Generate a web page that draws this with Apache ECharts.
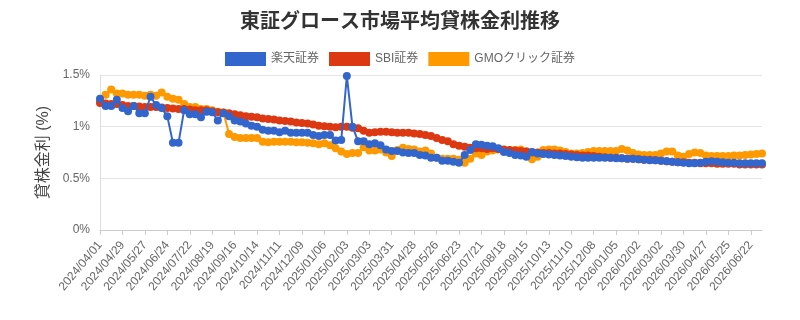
<!DOCTYPE html>
<html>
<head>
<meta charset="utf-8">
<script src="https://cdn.jsdelivr.net/npm/echarts@6/dist/echarts.min.js"></script>
<style>
  html, body { margin: 0; padding: 0; background: #fff; }
  #chart { width: 800px; height: 320px; }
</style>
</head>
<body>
<div id="chart"></div>
<script>
// weekly dates, 2024/04/01 .. 2026/07/06
const weekCount = 119;
const dates = [];
for (let i = 0; i < weekCount; i++) {
  const d = new Date(2024, 3, 1 + i * 7);
  const mm = String(d.getMonth() + 1).padStart(2, "0");
  const dd = String(d.getDate()).padStart(2, "0");
  dates.push(d.getFullYear() + "/" + mm + "/" + dd);
}

const seriesNames = ["楽天証券", "SBI証券", "GMOクリック証券"];

// 楽天証券
const rakuten = [
  1.27, 1.20, 1.20, 1.26, 1.18, 1.15, 1.20, 1.13, 1.13, 1.29,
  1.21, 1.18, 1.10, 0.845, 0.845, 1.16, 1.12, 1.12, 1.09, 1.145,
  1.14, 1.06, 1.13, 1.10, 1.06, 1.05, 1.03, 1.01, 1.00, 0.97,
  0.96, 0.96, 0.945, 0.96, 0.94, 0.94, 0.94, 0.94, 0.92, 0.91,
  0.92, 0.92, 0.865, 0.87, 1.49, 1.00, 0.86, 0.86, 0.83, 0.84,
  0.82, 0.78, 0.765, 0.765, 0.75, 0.745, 0.745, 0.725, 0.72, 0.70,
  0.70, 0.67, 0.67, 0.66, 0.65, 0.725, 0.775, 0.83, 0.825, 0.815,
  0.81, 0.79, 0.755, 0.745, 0.725, 0.72, 0.71, 0.755, 0.74, 0.735,
  0.73, 0.725, 0.72, 0.715, 0.71, 0.705, 0.70, 0.70, 0.70, 0.70,
  0.70, 0.70, 0.695, 0.695, 0.69, 0.69, 0.685, 0.68, 0.675, 0.675,
  0.67, 0.665, 0.66, 0.655, 0.65, 0.645, 0.645, 0.65, 0.66, 0.665,
  0.66, 0.655, 0.65, 0.65, 0.645, 0.645, 0.645, 0.645, 0.645
];

// SBI証券
const sbi = [
  1.23, 1.225, 1.22, 1.22, 1.21, 1.20, 1.20, 1.195, 1.19, 1.19,
  1.19, 1.185, 1.18, 1.175, 1.17, 1.17, 1.165, 1.16, 1.16, 1.16,
  1.15, 1.14, 1.135, 1.13, 1.12, 1.11, 1.10, 1.095, 1.09, 1.08,
  1.075, 1.07, 1.06, 1.055, 1.05, 1.04, 1.035, 1.03, 1.02, 1.01,
  1.005, 1.00, 0.995, 1.00, 1.00, 0.99, 0.985, 0.96, 0.94, 0.945,
  0.95, 0.95, 0.945, 0.94, 0.94, 0.94, 0.935, 0.93, 0.92, 0.91,
  0.89, 0.87, 0.86, 0.83, 0.815, 0.805, 0.795, 0.79, 0.79, 0.785,
  0.79, 0.785, 0.78, 0.775, 0.77, 0.765, 0.76, 0.75, 0.75, 0.745,
  0.745, 0.74, 0.74, 0.735, 0.73, 0.725, 0.72, 0.72, 0.715, 0.71,
  0.705, 0.70, 0.70, 0.695, 0.69, 0.69, 0.685, 0.68, 0.68, 0.675,
  0.67, 0.665, 0.66, 0.655, 0.655, 0.65, 0.65, 0.645, 0.645, 0.645,
  0.64, 0.64, 0.64, 0.64, 0.635, 0.635, 0.635, 0.635, 0.635
];

// GMOクリック証券
const gmo = [
  1.25, 1.31, 1.36, 1.32, 1.32, 1.31, 1.31, 1.31, 1.30, 1.31,
  1.30, 1.33, 1.29, 1.27, 1.26, 1.22, 1.19, 1.19, 1.17, 1.17,
  1.16, 1.145, 1.14, 0.93, 0.90, 0.89, 0.89, 0.89, 0.89, 0.855,
  0.85, 0.855, 0.855, 0.855, 0.855, 0.85, 0.85, 0.845, 0.84, 0.83,
  0.84, 0.82, 0.79, 0.76, 0.735, 0.745, 0.745, 0.80, 0.77, 0.77,
  0.78, 0.75, 0.715, 0.775, 0.795, 0.785, 0.78, 0.76, 0.77, 0.74,
  0.70, 0.69, 0.69, 0.69, 0.68, 0.65, 0.69, 0.74, 0.725, 0.76,
  0.77, 0.78, 0.77, 0.77, 0.775, 0.78, 0.76, 0.685, 0.71, 0.775,
  0.78, 0.78, 0.77, 0.755, 0.74, 0.74, 0.745, 0.755, 0.765, 0.765,
  0.765, 0.765, 0.765, 0.785, 0.77, 0.745, 0.73, 0.725, 0.725, 0.725,
  0.74, 0.76, 0.76, 0.72, 0.71, 0.735, 0.75, 0.745, 0.72, 0.715,
  0.715, 0.715, 0.715, 0.72, 0.72, 0.725, 0.73, 0.735, 0.74
];

const colors = ["#3366cc", "#dc3912", "#ff9900"];
const font = "'Liberation Sans', 'Noto Sans CJK JP', sans-serif";

function lineSeries(name, data, color, z) {
  return {
    name: name,
    type: "line",
    data: data,
    symbol: "circle",
    symbolSize: 8,
    showSymbol: true,
    showAllSymbol: true,
    z: z,
    itemStyle: { color: color },
    lineStyle: { color: color, width: 2 }
  };
}

echarts.init(document.getElementById("chart")).setOption({
  animation: false,
  color: colors,
  title: {
    text: "東証グロース市場平均貸株金利推移",
    left: "center",
    top: 7,
    textStyle: { fontFamily: font, fontSize: 20, fontWeight: "bold", color: "#333" }
  },
  legend: {
    data: seriesNames,
    top: 47,
    left: "center",
    itemWidth: 41,
    itemHeight: 14,
    itemGap: 10,
    icon: "rect",
    textStyle: { fontFamily: font, fontSize: 12, color: "#666" }
  },
  grid: { left: 100, right: 38, top: 75, bottom: 90 },
  xAxis: {
    type: "category",
    data: dates,
    boundaryGap: false,
    axisLine: { lineStyle: { color: "#ccc" } },
    axisTick: { show: true, interval: 3, length: 5, lineStyle: { color: "#ccc" } },
    axisLabel: { interval: 3, rotate: 50, fontFamily: font, fontSize: 12, color: "#666", margin: 13 }
  },
  yAxis: {
    type: "value",
    min: 0,
    max: 1.5,
    interval: 0.5,
    name: "貸株金利 (%)",
    nameLocation: "middle",
    nameGap: 47,
    nameTextStyle: { fontFamily: font, fontSize: 16, color: "#444" },
    axisLine: { show: true, lineStyle: { color: "#ddd" } },
    axisTick: { show: false },
    splitLine: { lineStyle: { color: "#e6e6e6" } },
    axisLabel: {
      fontFamily: font, fontSize: 12, color: "#666", margin: 10,
      formatter: function (v) { return v + "%"; }
    }
  },
  series: [
    lineSeries(seriesNames[0], rakuten, colors[0], 4),
    lineSeries(seriesNames[1], sbi, colors[1], 3),
    lineSeries(seriesNames[2], gmo, colors[2], 2)
  ]
});
</script>
</body>
</html>
